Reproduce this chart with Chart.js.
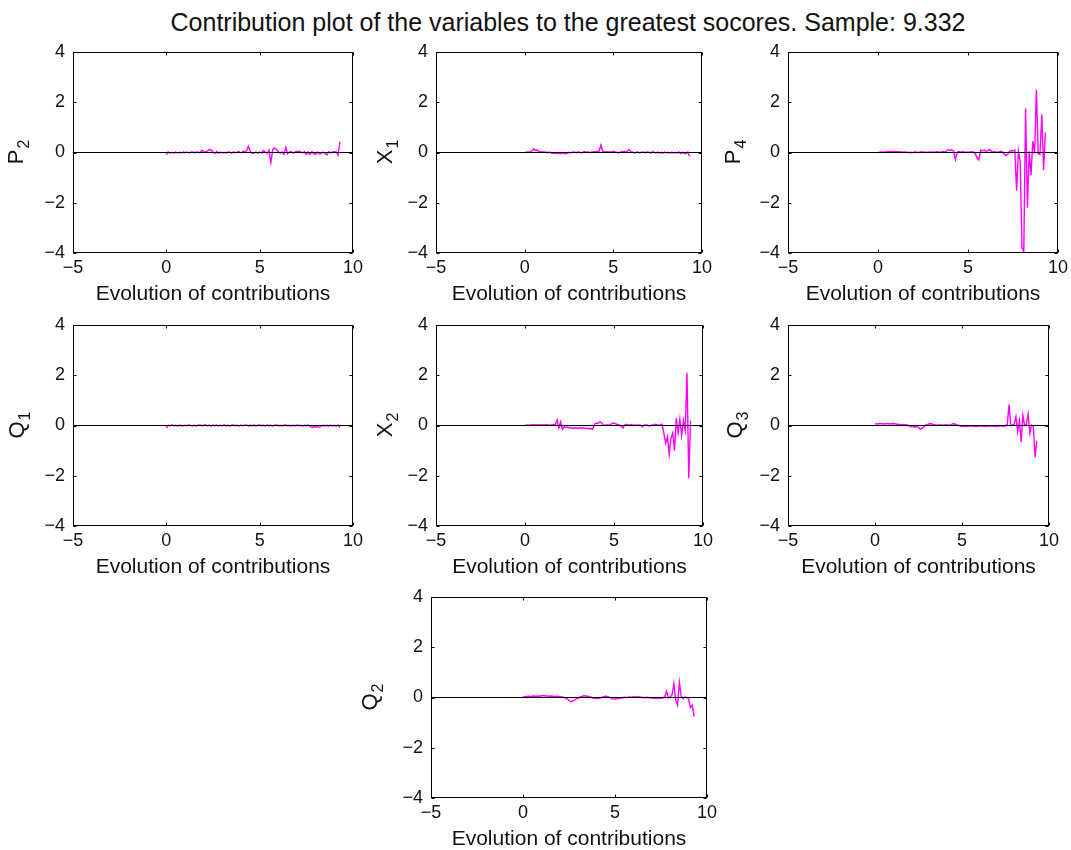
<!DOCTYPE html>
<html>
<head>
<meta charset="utf-8">
<script src="https://cdn.jsdelivr.net/npm/chart.js@4.4.1/dist/chart.umd.min.js"></script>
<style>
  body { margin: 0; background: #fff; width: 1071px; height: 850px; position: relative; overflow: hidden;
         font-family: "Liberation Sans", Arial, sans-serif; }
  #title { position: absolute; left: 168px; width: 800px; top: 10px; text-align: center;
           font-size: 25px; line-height: 25px; color: #111; white-space: nowrap; }
  canvas { position: absolute; }
</style>
</head>
<body>
<div id="title">Contribution plot of the variables to the greatest socores. Sample: 9.332</div>
<script>
// positions along the contribution axis, shared by every variable
var sampleX = [0, 0.1, 0.2, 0.3, 0.4, 0.5, 0.6, 0.7, 0.8, 0.9,
               1, 1.1, 1.2, 1.3, 1.4, 1.5, 1.6, 1.7, 1.8, 1.9,
               2, 2.1, 2.2, 2.3, 2.4, 2.5, 2.6, 2.7, 2.8, 2.9,
               3, 3.1, 3.2, 3.3, 3.4, 3.5, 3.6, 3.7, 3.8, 3.9,
               4, 4.1, 4.2, 4.3, 4.4, 4.5, 4.6, 4.7, 4.8, 4.9,
               5, 5.1, 5.2, 5.3, 5.4, 5.5, 5.6, 5.7, 5.8, 5.9,
               6, 6.1, 6.2, 6.3, 6.4, 6.5, 6.6, 6.7, 6.8, 6.9,
               7, 7.1, 7.2, 7.3, 7.4, 7.5, 7.6, 7.7, 7.8, 7.9,
               8, 8.1, 8.2, 8.3, 8.4, 8.5, 8.6, 8.7, 8.8, 8.9,
               9, 9.1, 9.2, 9.3];
var xTicks = [-5, 0, 5, 10];
var yTicks = [-4, -2, 0, 2, 4];

var contribP2 = [-0.08, 0.02, -0.02, 0.01, -0.03, 0.02, -0.02, 0.01, -0.02, 0.02,
                 -0.01, 0.02, -0.02, 0.01, 0.02, -0.01, 0.02, 0.01, -0.02, 0.1,
                 0.03, 0.02, 0.06, 0.12, 0.1, 0.02, -0.03, 0.04, -0.03, 0.02,
                 -0.02, 0.01, -0.03, 0.02, 0.01, -0.02, 0.03, -0.02, 0.02, 0.03,
                 -0.02, 0.04, 0.03, 0.08, 0.25, 0.04, -0.03, -0.02, 0.02, -0.03,
                 0.02, -0.02, 0.08, 0.02, -0.03, 0.1, -0.4, 0.12, 0.18, 0.12,
                 0.03, -0.03, 0.02, -0.08, 0.2, -0.05, 0.02, 0.03, -0.02, 0.02,
                 0.04, 0.05, 0.02, -0.02, 0.03, -0.07, 0.02, -0.08, 0.03, -0.05,
                 -0.07, 0.02, -0.06, -0.03, 0.02, -0.04, -0.1, 0.03, -0.02, 0.02,
                 0.03, 0.02, -0.1, 0.42];

var contribX1 = [-0.02, 0.02, 0.01, 0.03, 0.05, 0.15, 0.08, 0.1, 0.04, 0.02,
                 0.03, 0.01, 0.02, -0.01, 0.02, -0.03, -0.02, -0.04, -0.02, -0.05,
                 -0.03, -0.04, -0.02, -0.05, -0.03, 0.01, -0.02, 0.02, 0.01, -0.01,
                 0.02, 0.01, -0.02, 0.02, 0.03, 0.01, 0.02, -0.01, 0.03, 0.02,
                 0.04, 0.03, 0.06, 0.3, 0.05, 0.02, 0.03, 0.01, 0.03, 0.02,
                 0.06, 0.02, 0.01, -0.02, 0.02, 0.03, 0.04, 0.02, 0.05, 0.12,
                 0.03, 0.01, -0.02, 0.02, 0.01, -0.02, 0.02, 0.01, -0.01, 0.02,
                 0.01, -0.02, 0.03, 0.01, -0.03, 0.02, -0.02, 0.01, -0.03, 0.02,
                 -0.02, 0.01, -0.03, 0.02, -0.02, 0.01, -0.03, 0.02, -0.04, 0.01,
                 -0.02, -0.05, 0.02, -0.15];

var contribP4 = [0, 0.01, 0.02, 0.01, 0.02, 0.03, 0.04, 0.03, 0.04, 0.03,
                 0.04, 0.03, 0.03, 0.02, 0.01, 0.02, 0.01, 0, 0.01, -0.01,
                 0.01, 0.02, 0, 0.01, 0.03, 0.01, 0.02, 0, 0.02, 0.01,
                 0.02, 0.01, 0.02, 0.03, 0.01, 0.02, 0.04, 0.02, 0.06, 0.12,
                 0.08, 0.1, 0.05, -0.28, 0.02, 0.04, 0.01, 0.03, 0.02, 0,
                 0.02, 0.01, 0.03, 0.02, -0.05, -0.2, -0.3, 0.1, 0.06, 0.1,
                 0.04, 0.08, 0.12, 0.05, 0.02, 0.03, 0.01, 0.02, 0.04, 0.03,
                 -0.05, -0.12, -0.08, 0.03, 0.08, 0.06, 0.1, -1.52, 0.05, -0.35,
                 -3.8, -3.95, 1.75, -2.2, 0.05, -0.9, 0.45, -0.05, 2.5, -0.05,
                 -0.08, 1.52, -0.7, 0.8];

var contribQ1 = [-0.1, 0.01, -0.01, 0.02, -0.01, 0.01, -0.02, 0.01, 0, -0.01,
                 0.01, -0.01, 0.02, 0, -0.01, 0.01, -0.02, 0.01, 0.02, -0.01,
                 0.01, 0.03, -0.02, 0.02, -0.03, 0.02, -0.01, 0.02, -0.02, 0.01,
                 -0.01, 0.02, -0.01, 0.01, -0.02, 0.01, 0.02, -0.01, 0.01, -0.02,
                 0.02, -0.01, 0.01, 0.02, -0.02, 0.01, -0.01, 0.02, -0.02, 0.01,
                 0.02, -0.01, 0.01, -0.02, 0.02, -0.01, 0.01, -0.02, 0.01, 0.02,
                 -0.01, 0.01, -0.02, 0.01, 0.02, -0.01, 0.01, -0.02, 0.01, -0.01,
                 0.02, -0.01, 0.01, -0.02, 0.01, -0.01, 0.02, -0.03, -0.08, -0.05,
                 -0.07, -0.04, -0.08, -0.02, 0.01, -0.02, 0.01, -0.03, 0.02, -0.02,
                 0.01, -0.03, 0.02, -0.08];

var contribX2 = [0, 0.02, 0.01, 0.02, 0.03, 0.02, 0.03, 0.02, 0.03, 0.02,
                 0.03, 0.02, 0.03, 0.02, 0.01, 0.02, 0.03, 0.02, 0.22, -0.1,
                 0.15, -0.15, -0.05, -0.08, -0.06, -0.1, -0.08, -0.12, -0.09, -0.1,
                 -0.12, -0.08, -0.11, -0.09, -0.13, -0.1, -0.14, -0.12, -0.15, 0.05,
                 0.1, 0.08, 0.15, 0.12, 0.02, 0, 0.03, 0.01, 0.04, 0.08,
                 0.1, 0.06, 0.04, 0.02, -0.03, -0.1, 0.02, 0.05, 0.01, 0.02,
                 0.03, 0.01, 0.02, 0, 0.02, 0.01, -0.05, 0.02, 0.01, 0.02,
                 -0.03, 0.02, 0.01, 0.05, 0.03, 0.01, 0.02, 0.05, -0.3, -0.7,
                 -0.45, -1.15, -0.5, -0.3, -1.0, 0.3, -0.3, 0.25, -0.4, 0.2,
                 -0.2, 2.1, -2.1, 0.2];

var contribQ3 = [0.07, 0.06, 0.07, 0.08, 0.07, 0.06, 0.07, 0.08, 0.07, 0.06,
                 0.08, 0.07, 0.06, 0.05, 0.04, 0.03, 0.04, 0.02, 0.03, 0.01,
                 -0.03, -0.05, -0.04, -0.06, -0.03, -0.08, -0.15, -0.12, -0.05, 0.02,
                 0.03, 0.06, 0.08, 0.05, 0.03, 0.02, 0.01, 0.03, 0.02, 0.01,
                 0.02, 0.03, 0.01, 0.02, 0.04, 0.08, 0.05, 0.02, 0.01, -0.02,
                 -0.03, -0.02, -0.04, -0.02, -0.03, -0.01, -0.03, -0.02, -0.04, -0.02,
                 -0.03, -0.01, -0.03, -0.04, -0.02, -0.03, -0.01, -0.03, -0.02, -0.04,
                 -0.02, -0.03, -0.01, -0.02, -0.03, -0.01, 0.02, 0.83, 0, 0.02,
                 0.05, 0.35, -0.25, 0.2, -0.65, 0.4, 0, 0.05, 0.45, -0.3,
                 0.02, -0.05, -1.27, -0.6];

var contribQ2 = [0.02, 0.03, 0.04, 0.05, 0.04, 0.05, 0.06, 0.05, 0.06, 0.05,
                 0.07, 0.08, 0.07, 0.06, 0.05, 0.06, 0.05, 0.04, 0.05, 0.04,
                 0.03, 0.02, 0.01, -0.02, -0.05, -0.12, -0.17, -0.14, -0.1, -0.05,
                 -0.02, 0.02, 0.04, 0.07, 0.06, 0.05, 0.03, 0.01, -0.02, -0.03,
                 -0.04, -0.03, -0.02, 0.01, 0.03, 0.05, 0.03, 0.01, -0.03, -0.05,
                 -0.06, -0.05, -0.04, -0.02, -0.01, 0.01, 0, 0.01, 0.02, 0.01,
                 0.03, 0.02, 0.03, 0.02, 0.01, 0, -0.01, 0.01, 0, -0.01,
                 -0.02, -0.03, -0.02, -0.03, -0.02, -0.03, -0.01, 0.02, 0.25, -0.02,
                 0.03, 0.1, 0.55, -0.1, -0.3, 0.6, 0.05, -0.05, 0.02, 0,
                 -0.05, -0.4, -0.3, -0.75];

// one subplot per variable: axes box in page pixels [left, top, right, bottom]
var panels = [
  { name: 'P', sub: '2', values: contribP2, box: [73, 52, 353, 253], gap: 50 },
  { name: 'X', sub: '1', values: contribX1, box: [436, 52, 702, 253], gap: 44 },
  { name: 'P', sub: '4', values: contribP4, box: [788, 52, 1058, 253], gap: 48 },
  { name: 'Q', sub: '1', values: contribQ1, box: [73, 325, 353, 526], gap: 49 },
  { name: 'X', sub: '2', values: contribX2, box: [436, 325, 703, 526], gap: 44 },
  { name: 'Q', sub: '3', values: contribQ3, box: [788, 325, 1049, 526], gap: 46 },
  { name: 'Q', sub: '2', values: contribQ2, box: [431, 597, 707, 798], gap: 54 }
];

var FONT = '"Liberation Sans", Arial, sans-serif';
var INK = '#111';
var Y_W = 70, X_H = 56, PAD_T = 24, PAD_R = 18, TICK = 3;

Chart.defaults.font.family = FONT;
Chart.defaults.color = INK;

function minus(v) { return String(v).replace('-', '\u2212'); }

// axes frame with inward ticks on all four sides, plus the subscripted y label
var boxAxes = {
  id: 'boxAxes',
  afterDatasetsDraw: function (chart, args, opts) {
    var ctx = chart.ctx, a = chart.chartArea;
    var sx = chart.scales.x, sy = chart.scales.y;
    var l = Math.round(a.left) + 0.5, r = Math.round(a.right) - 0.5;
    var t = Math.round(a.top) + 0.5, b = Math.round(a.bottom) - 0.5;
    ctx.save();
    ctx.strokeStyle = '#000';
    ctx.lineWidth = 1;
    ctx.strokeRect(l, t, r - l, b - t);
    ctx.beginPath();
    xTicks.forEach(function (v) {
      var px = Math.round(sx.getPixelForValue(v)) + 0.5;
      ctx.moveTo(px, b); ctx.lineTo(px, b - TICK);
      ctx.moveTo(px, t); ctx.lineTo(px, t + TICK);
    });
    yTicks.forEach(function (v) {
      var py = Math.round(sy.getPixelForValue(v)) + 0.5;
      ctx.moveTo(l, py); ctx.lineTo(l + TICK, py);
      ctx.moveTo(r, py); ctx.lineTo(r - TICK, py);
    });
    ctx.stroke();

    // rotated label, letter then a lowered subscript digit
    ctx.translate(a.left - opts.gap, (a.top + a.bottom) / 2);
    ctx.rotate(-Math.PI / 2);
    ctx.fillStyle = INK;
    ctx.textBaseline = 'alphabetic';
    ctx.font = '22px ' + FONT;
    var w1 = ctx.measureText(opts.name).width;
    ctx.font = '16px ' + FONT;
    var w2 = ctx.measureText(opts.sub).width;
    var x0 = -(w1 + w2) / 2;
    ctx.font = '22px ' + FONT;
    ctx.fillText(opts.name, x0, 0);
    ctx.font = '16px ' + FONT;
    ctx.fillText(opts.sub, x0 + w1 + 1, 6);
    ctx.restore();
  }
};

panels.forEach(function (p) {
  var boxW = p.box[2] - p.box[0], boxH = p.box[3] - p.box[1];
  var cv = document.createElement('canvas');
  cv.width = Y_W + boxW + PAD_R;
  cv.height = PAD_T + boxH + X_H;
  cv.style.left = (p.box[0] - Y_W) + 'px';
  cv.style.top = (p.box[1] - PAD_T) + 'px';
  document.body.appendChild(cv);

  var points = sampleX.map(function (x, i) { return { x: x, y: p.values[i] }; });

  new Chart(cv, {
    type: 'line',
    data: {
      datasets: [
        { // zero reference line, drawn on top
          data: [{ x: xTicks[0], y: 0 }, { x: xTicks[xTicks.length - 1], y: 0 }],
          borderColor: '#000', borderWidth: 1, pointRadius: 0
        },
        {
          data: points,
          borderColor: '#ff00ff', borderWidth: 1.4, pointRadius: 0, tension: 0
        }
      ]
    },
    options: {
      responsive: false,
      animation: false,
      events: [],
      layout: { padding: { left: 0, right: PAD_R, top: PAD_T, bottom: 0 } },
      plugins: {
        legend: { display: false },
        tooltip: { enabled: false },
        boxAxes: { name: p.name, sub: p.sub, gap: p.gap }
      },
      scales: {
        x: {
          type: 'linear',
          min: xTicks[0], max: xTicks[xTicks.length - 1],
          afterBuildTicks: function (s) { s.ticks = xTicks.map(function (v) { return { value: v }; }); },
          afterFit: function (s) { s.height = X_H; },
          grid: { display: false, drawTicks: false },
          border: { display: false },
          ticks: { autoSkip: false, maxRotation: 0, padding: 4, font: { size: 18 },
                   callback: function (v) { return minus(v); } },
          title: { display: true, text: 'Evolution of contributions', font: { size: 21 },
                   padding: { top: 0, bottom: 2 } }
        },
        y: {
          type: 'linear',
          min: yTicks[0], max: yTicks[yTicks.length - 1],
          afterBuildTicks: function (s) { s.ticks = yTicks.map(function (v) { return { value: v }; }); },
          afterFit: function (s) { s.width = Y_W; },
          grid: { display: false, drawTicks: false },
          border: { display: false },
          ticks: { padding: 8, font: { size: 18 },
                   callback: function (v) { return minus(v); } }
        }
      }
    },
    plugins: [boxAxes]
  });
});
</script>
</body>
</html>
